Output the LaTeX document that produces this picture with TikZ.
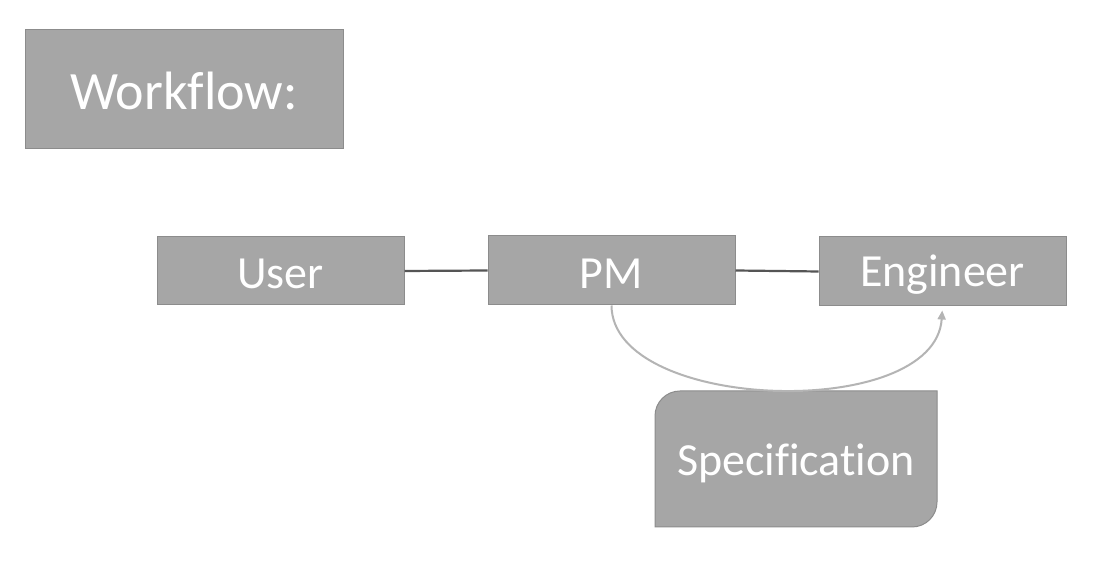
\documentclass[tikz,border=0pt]{standalone}
\usepackage{fontspec}
\setmainfont[RawFeature=-liga]{Carlito}
\usetikzlibrary{arrows.meta}
\definecolor{boxfill}{HTML}{A6A6A6}
\definecolor{boxline}{HTML}{8C8C8C}
\definecolor{linkdark}{HTML}{555555}
\definecolor{curvegray}{HTML}{B4B4B4}
\newcommand\lowtext[2]{\raisebox{-#1}[\height][\depth]{#2}}
\begin{document}
\begin{tikzpicture}[x=1pt,y=1pt,
  graybox/.style={fill=boxfill,draw=boxline,line width=1pt,text=white,inner sep=0pt,font=\fontsize{46}{50}\selectfont},
  link/.style={draw=linkdark,line width=2.2pt},
  flow/.style={draw=curvegray,line width=2pt,-{Triangle[length=9pt,width=8pt]}}]
\useasboundingbox[fill=white] (0,0) rectangle (1110,572);
\node[graybox,minimum width=318pt,minimum height=119pt,font=\fontsize{54}{60}\selectfont] (wf) at (184,482.5) {\lowtext{1pt}{Workflow:}};
\node[graybox,minimum width=247pt,minimum height=68pt] (user) at (280.5,301) {\lowtext{3pt}{User}};
\node[graybox,minimum width=247pt,minimum height=69pt] (pm) at (611.5,301.5) {\lowtext{3pt}{PM}};
\node[graybox,minimum width=247pt,minimum height=69pt] (eng) at (942.5,300.5) {\lowtext{3pt}{Engineer}};
\draw[link] (user.east) -- (pm.west);
\draw[link] (pm.east) -- (eng.west);
\fill[boxfill,draw=boxline,line width=1pt] (655,45) -- (655,156) arc[start angle=180,end angle=90,radius=25] -- (937,181) -- (937,70) arc[start angle=0,end angle=-90,radius=25] -- cycle;
\node[text=white,inner sep=0pt,minimum width=282pt,minimum height=136pt,font=\fontsize{46}{50}\selectfont] (spec) at (796,113) {\lowtext{4pt}{Specification}};
\draw[flow,shorten >=4pt] (pm.south) .. controls (612,160) and (935,150) .. (eng.south);
\end{tikzpicture}
\end{document}
